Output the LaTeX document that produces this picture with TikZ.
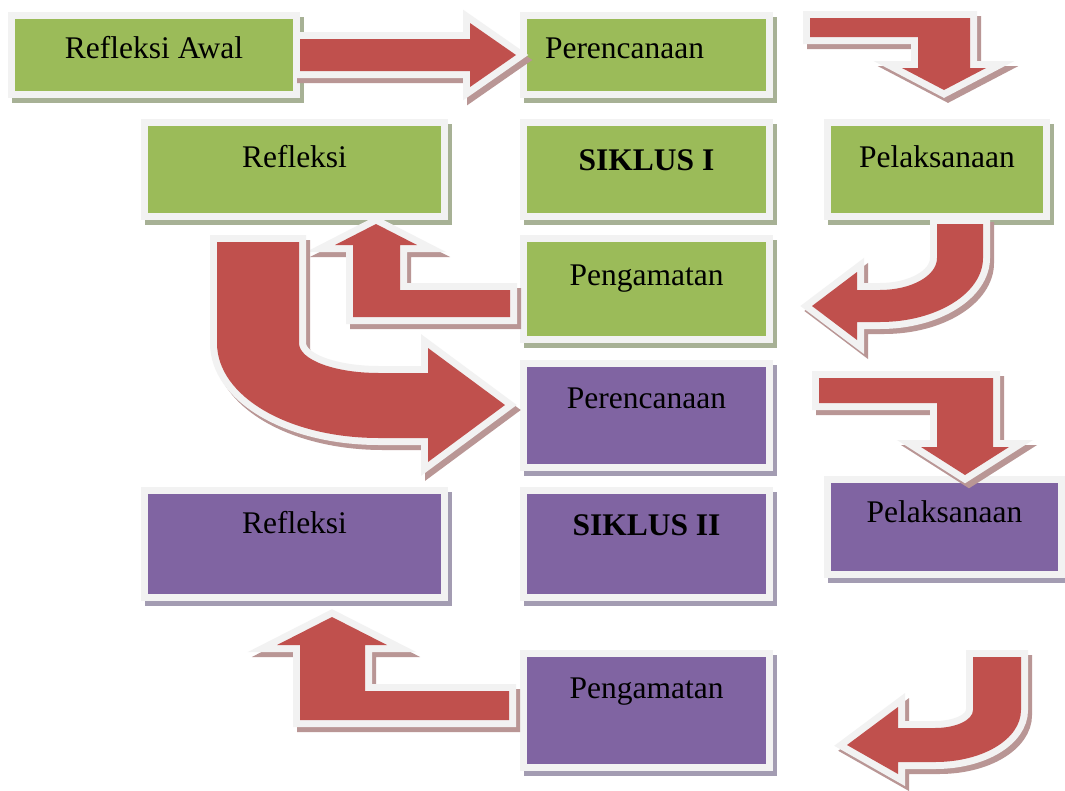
\documentclass[tikz,border=0pt]{standalone}
\usepackage{fontspec}
\setmainfont{Liberation Serif}
\definecolor{boxgreen}{HTML}{9BBB59}
\definecolor{boxpurple}{HTML}{8064A2}
\definecolor{arrowred}{HTML}{C0504D}
\definecolor{rimgray}{HTML}{F2F2F2}
\definecolor{shadegreen}{HTML}{A7B195}
\definecolor{shadepurple}{HTML}{A39CB2}
\definecolor{shadered}{HTML}{B99695}
\begin{document}
\begin{tikzpicture}[x=1pt, y=-1pt, every node/.style={font=\fontsize{31.5}{36}\selectfont}]
  \tikzstyle{dropshade}=[preaction={draw=#1, fill=#1, line width=7pt, transform canvas={shift={(4pt,-5pt)}}}]
  \tikzstyle{cycbox}=[rectangle, draw=rimgray, line width=7pt, inner sep=0pt, text height=22pt]
  \tikzstyle{greenbox}=[cycbox, fill=boxgreen, dropshade=shadegreen]
  \tikzstyle{purplebox}=[cycbox, fill=boxpurple, dropshade=shadepurple]
  \tikzstyle{bigarrow}=[fill=arrowred, preaction={draw=shadered, fill=shadered, line width=14pt, transform canvas={shift={(4pt,-5pt)}}}, preaction={draw=rimgray, fill=rimgray, line width=14pt}]
  \path[use as bounding box, fill=white] (0,0) rectangle (1065,790);

  % siklus I
  \node[greenbox, minimum width=285pt, minimum height=79pt, text depth=16pt] (awal) at (154,55) {Refleksi Awal};
  \node[greenbox, minimum width=246pt, minimum height=79pt, text depth=16pt, text width=203pt, align=left] (rencana1) at (646.5,55) {Perencanaan};
  \node[greenbox, minimum width=300pt, minimum height=94pt, text depth=27pt] (refleksi1) at (294.5,169.5) {Refleksi};
  \node[greenbox, minimum width=246pt, minimum height=94pt, text depth=21pt] (siklus1) at (646.5,169.5) {\bfseries SIKLUS I};
  \node[greenbox, minimum width=219pt, minimum height=94pt, text depth=27pt] (laksana1) at (937,169.5) {Pelaksanaan};
  \node[greenbox, minimum width=246pt, minimum height=101pt, text depth=30pt] (amat1) at (646.5,289) {Pengamatan};

  % siklus II
  \node[purplebox, minimum width=246pt, minimum height=104pt, text depth=37pt] (rencana2) at (646.5,415.5) {Perencanaan};
  \node[purplebox, minimum width=300pt, minimum height=107pt, text depth=44pt] (refleksi2) at (294.5,544) {Refleksi};
  \node[purplebox, minimum width=246pt, minimum height=107pt, text depth=40pt] (siklus2) at (646.5,544) {\bfseries SIKLUS II};
  \node[purplebox, minimum width=234pt, minimum height=95pt, text depth=32pt] (laksana2) at (944.5,527) {Pelaksanaan};
  \node[purplebox, minimum width=246pt, minimum height=114pt, text depth=47pt] (amat2) at (646.5,710.5) {Pengamatan};

  % block arrows
  \path[bigarrow] (300,39) -- (470,39) -- (470,23) -- (516,55) -- (470,87) -- (470,71) -- (300,71) -- cycle;
  \path[bigarrow] (810,18) -- (970,18) -- (970,68) -- (986,68) -- (944,90) -- (902,68) -- (918,68) -- (918,37) -- (810,37) -- cycle;
  \path[bigarrow] (937,224) -- (983,224) -- (983,258) .. controls (983,293) and (937,322) .. (880,322) -- (857,322) -- (857,340) -- (812,306) -- (857,272) -- (857,290) -- (880,290) .. controls (911,290) and (937,276) .. (937,258) -- cycle;
  \path[bigarrow] (510,290) -- (510,317) -- (353,317) -- (353,245) -- (335,245) -- (376,224) -- (417,245) -- (400,245) -- (400,290) -- cycle;
  \path[bigarrow] (217,242) -- (299,242) -- (299,343) .. controls (299,360) and (335,373) .. (379,373) -- (428,373) -- (428,348) -- (505,405) -- (428,462) -- (428,438) -- (379,438) .. controls (288,438) and (217,396) .. (217,343) -- cycle;
  \path[bigarrow] (819,378) -- (993,378) -- (993,447) -- (1009,447) -- (965,475) -- (921,447) -- (937,447) -- (937,403) -- (819,403) -- cycle;
  \path[bigarrow] (509,691) -- (509,720) -- (300,720) -- (300,645) -- (277,645) -- (332,617) -- (387,645) -- (365,645) -- (365,691) -- cycle;
  \path[bigarrow] (973,657) -- (1021,657) -- (1021,710) .. controls (1021,739) and (983,762) .. (935,762) -- (898,762) -- (898,774) -- (847,745) -- (898,707) -- (898,728) -- (935,728) .. controls (956,728) and (973,720) .. (973,710) -- cycle;
\end{tikzpicture}
\end{document}
